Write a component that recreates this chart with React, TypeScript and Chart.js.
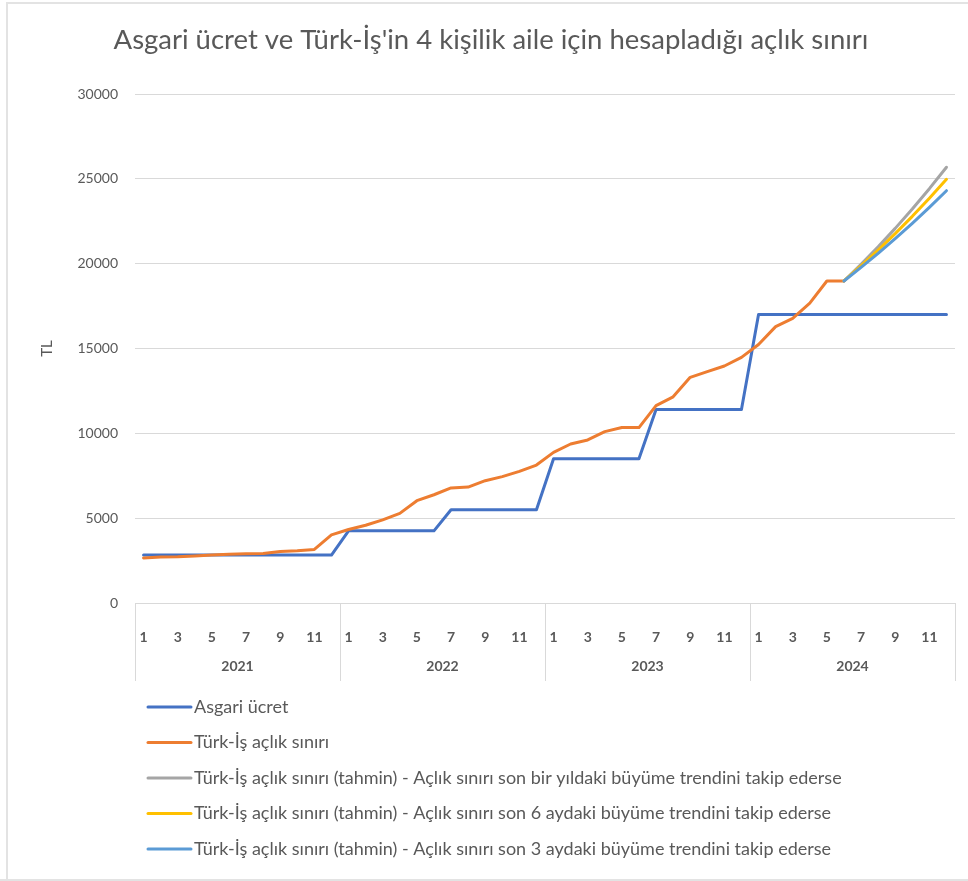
import { useEffect, useRef } from "react";
import { Chart, registerables } from "chart.js";

Chart.register(...registerables);

const TITLE = "Asgari ücret ve Türk-İş'in 4 kişilik aile için hesapladığı açlık sınırı";
const YEARS = ["2021", "2022", "2023", "2024"];
const MONTHS = ["1", "2", "3", "4", "5", "6", "7", "8", "9", "10", "11", "12"];
const Y_TICKS = [0, 5000, 10000, 15000, 20000, 25000, 30000];

const ASGARI_UCRET = [
  2826, 2826, 2826, 2826, 2826, 2826, 2826, 2826, 2826, 2826, 2826, 2826,
  4253, 4253, 4253, 4253, 4253, 4253, 5500, 5500, 5500, 5500, 5500, 5500,
  8507, 8507, 8507, 8507, 8507, 8507, 11402, 11402, 11402, 11402, 11402, 11402,
  17002, 17002, 17002, 17002, 17002, 17002, 17002, 17002, 17002, 17002, 17002, 17002,
];

const ACLIK_SINIRI = [
  2654, 2710, 2720, 2770, 2830, 2880, 2900, 2920, 3030, 3080, 3160, 4013,
  4330, 4580, 4900, 5285, 6030, 6380, 6780, 6830, 7210, 7450, 7760, 8130,
  8880, 9370, 9610, 10100, 10340, 10340, 11630, 12150, 13300, 13640, 13970, 14480,
  15240, 16290, 16780, 17670, 18980, 18980, null, null, null, null, null, null,
];

const NULL41 = Array(41).fill(null);
const TAHMIN_12AY = [...NULL41, 18980, 19960, 20990, 22080, 23220, 24420, 25680];
const TAHMIN_6AY = [...NULL41, 18980, 19870, 20800, 21770, 22790, 23860, 24970];
const TAHMIN_3AY = [...NULL41, 18980, 19780, 20610, 21480, 22380, 23320, 24300];

const SERIES_NAMES = [
  "Asgari ücret",
  "Türk-İş açlık sınırı",
  "Türk-İş açlık sınırı (tahmin) - Açlık sınırı son bir yıldaki büyüme trendini takip ederse",
  "Türk-İş açlık sınırı (tahmin) - Açlık sınırı son 6 aydaki büyüme trendini takip ederse",
  "Türk-İş açlık sınırı (tahmin) - Açlık sınırı son 3 aydaki büyüme trendini takip ederse",
];
const SERIES_DATA = [ASGARI_UCRET, ACLIK_SINIRI, TAHMIN_12AY, TAHMIN_6AY, TAHMIN_3AY];
const COLORS = ["#4472C4", "#ED7D31", "#A5A5A5", "#FFC000", "#5B9BD5"];

const FONT = "Lato, 'Open Sans', sans-serif";
const TEXT = "#595959";
const GRID = "#D9D9D9";

const LABELS = YEARS.flatMap(() => MONTHS);

const decorPlugin = {
  id: "decor",
  afterDraw(chart: any) {
    const ctx = chart.ctx;
    const x = chart.scales.x;
    const area = chart.chartArea;
    ctx.save();
    // frame
    ctx.strokeStyle = "#E3E3E3";
    ctx.lineWidth = 2;
    ctx.beginPath();
    ctx.moveTo(7, 880);
    ctx.lineTo(7, 3);
    ctx.lineTo(968, 3);
    ctx.moveTo(0, 880);
    ctx.lineTo(968, 880);
    ctx.stroke();

    // title
    ctx.fillStyle = TEXT;
    ctx.font = `27.5px ${FONT}`;
    ctx.textAlign = "center";
    ctx.textBaseline = "middle";
    ctx.fillText(TITLE, 491, 40);

    // year separators + labels
    const half = (x.getPixelForValue(1) - x.getPixelForValue(0)) / 2;
    ctx.strokeStyle = GRID;
    ctx.lineWidth = 1;
    const bounds: number[] = [];
    for (let i = 0; i <= YEARS.length; i++) {
      const px = i < YEARS.length ? x.getPixelForValue(i * 12) - half : x.getPixelForValue(YEARS.length * 12 - 1) + half;
      bounds.push(px);
      ctx.beginPath();
      ctx.moveTo(Math.round(px) + 0.5, area.bottom);
      ctx.lineTo(Math.round(px) + 0.5, area.bottom + 78);
      ctx.stroke();
    }
    ctx.font = `bold 14px ${FONT}`;
    ctx.fillStyle = TEXT;
    YEARS.forEach((yr, i) => {
      ctx.fillText(yr, (bounds[i] + bounds[i + 1]) / 2, area.bottom + 63);
    });

    // legend
    ctx.textAlign = "left";
    ctx.font = `18px ${FONT}`;
    chart.data.datasets.forEach((ds: any, i: number) => {
      const y = 707 + i * 35.5;
      ctx.strokeStyle = ds.borderColor;
      ctx.lineWidth = 3;
      ctx.lineCap = "round";
      ctx.beginPath();
      ctx.moveTo(148, y);
      ctx.lineTo(191, y);
      ctx.stroke();
      ctx.fillStyle = TEXT;
      ctx.fillText(ds.label, 194, y);
    });
    ctx.restore();
  },
};

export default function App() {
  const ref = useRef<HTMLCanvasElement | null>(null);
  useEffect(() => {
    if (!ref.current) return;
    const chart = new Chart(ref.current, {
      type: "line",
      data: {
        labels: LABELS,
        datasets: SERIES_NAMES.map((name, i) => ({
          label: name,
          data: SERIES_DATA[i],
          borderColor: COLORS[i],
          backgroundColor: COLORS[i],
          borderWidth: 3,
          pointRadius: 0,
          tension: 0,
          borderCapStyle: "round",
          borderJoinStyle: "round",
          spanGaps: false,
          order: SERIES_NAMES.length - i,
        })),
      },
      options: {
        animation: false,
        responsive: false,
        layout: { padding: { left: 0, right: 13, top: 94, bottom: 198 } },
        plugins: { legend: { display: false }, tooltip: { enabled: false }, title: { display: false } },
        scales: {
          x: {
            type: "category",
            offset: true,
            grid: { display: false },
            border: { display: true, color: GRID, width: 1 },
            ticks: {
              autoSkip: false,
              maxRotation: 0,
              minRotation: 0,
              padding: 18,
              color: TEXT,
              font: { family: FONT, size: 14, weight: "bold" },
              callback: (_v: any, idx: number) => (idx % 2 === 0 ? LABELS[idx] : ""),
            },
            afterFit: (s: any) => {
              s.height = 80;
            },
          },
          y: {
            min: 0,
            max: 30000,
            afterBuildTicks: (s: any) => {
              s.ticks = Y_TICKS.map((v) => ({ value: v }));
            },
            grid: { color: GRID, lineWidth: 1, drawTicks: false },
            border: { display: false },
            ticks: {
              padding: 17,
              color: TEXT,
              font: { family: FONT, size: 14 },
              callback: (v: any) => String(v),
            },
            title: { display: true, text: "TL", color: TEXT, font: { family: FONT, size: 15 }, padding: { top: 38, bottom: 0 } },
            afterFit: (s: any) => {
              s.width = 135;
            },
          },
        },
      },
      plugins: [decorPlugin],
    });
    return () => chart.destroy();
  }, []);
  return (
    <div style={{ position: "absolute", left: 0, top: 0, width: 968, height: 881, background: "#fff" }}>
      <canvas ref={ref} width={968} height={881} style={{ display: "block" }} />
    </div>
  );
}
